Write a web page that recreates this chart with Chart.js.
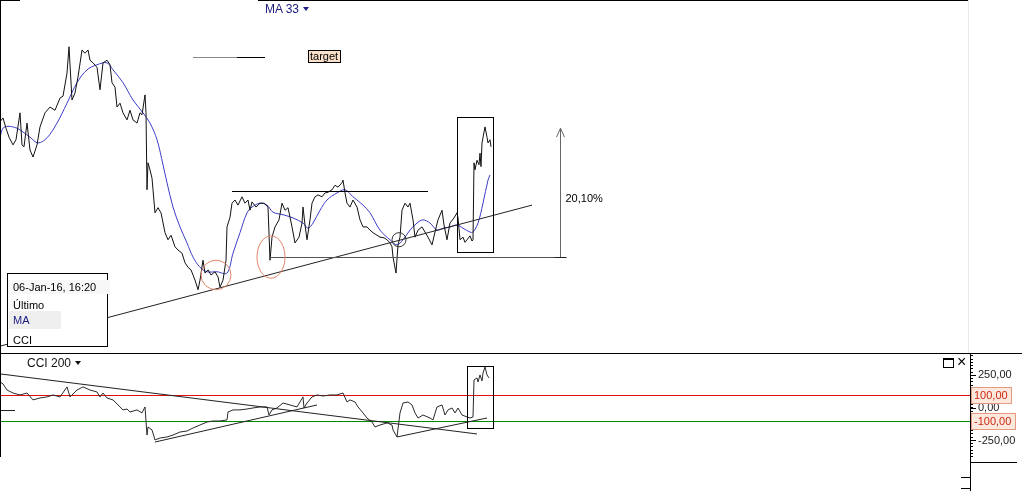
<!DOCTYPE html>
<html>
<head>
<meta charset="utf-8">
<script src="https://cdn.jsdelivr.net/npm/chart.js@4.4.1/dist/chart.umd.min.js"></script>
<style>
  body { margin: 0; background: #fff; font-family: "Liberation Sans", Arial, sans-serif; }
  #wrap { position: relative; width: 1022px; height: 491px; overflow: hidden; background: #fff; }
  #priceChart { position: absolute; left: 0; top: 0; }
  #cciChart { position: absolute; left: 0; top: 353px; }
  .lbl { position: absolute; font-size: 11px; white-space: nowrap; line-height: 13px; }
  .tri { display: inline-block; width: 0; height: 0; border-left: 3px solid transparent; border-right: 3px solid transparent; border-top: 4px solid currentColor; margin-left: 4px; vertical-align: 2px; }
  #info { position: absolute; left: 7px; top: 273px; width: 99px; height: 72px; border: 1px solid #000; background: #fff; font-size: 11px; }
  #info div { position: absolute; left: 5px; white-space: nowrap; line-height: 14px; }
</style>
</head>
<body>
<div id="wrap">
  <canvas id="priceChart" width="1022" height="353"></canvas>
  <canvas id="cciChart" width="1022" height="138"></canvas>

  <div class="lbl" style="left:265px; top:3px; color:#1a1a80; font-size:12px;">MA 33<span class="tri"></span></div>
  <div class="lbl" style="left:27px; top:357px; color:#111; font-size:12px;">CCI 200<span class="tri"></span></div>
  <div style="position:absolute; left:943px; top:358px; width:9px; height:7px; border:1px solid #000; border-top-width:2px;"></div>
  <div class="lbl" style="left:957px; top:354px; font-size:16px; line-height:16px; color:#000;">×</div>

  <div id="info">
    <div style="top:6px; left:0; width:97px; padding-left:5px; background:#f8f8f8;">06-Jan-16, 16:20</div>
    <div style="top:24px;">Último</div>
    <div style="top:37px; left:1px; width:48px; height:18px; line-height:18px; padding-left:4px; background:#efefef; color:#1a1a80;">MA</div>
    <div style="top:59px;">CCI</div>
  </div>
</div>

<script>
// --- DATA (bar number = time index) ---

// close price
const priceBars = [0,3,6,9,13,16,20,22,24,27,30,33,37,40,45,50,55,60,63,67,69,72,75,78,82,85,88,90,93,97,
  100,103,107,110,112,115,117,120,123,127,130,133,137,140,142,145,146,147,148,150,152,153,155,158,161,165,168,171,175,178,
  182,185,188,191,195,198,200,203,205,208,211,215,218,220,223,226,227,230,232,235,238,242,245,248,250,252,256,260,264,268,
  270,272,275,279,282,285,288,292,295,299,302,303,305,307,310,312,315,318,322,325,328,332,335,338,342,343,345,347,350,353,
  357,360,363,367,370,373,377,380,384,387,390,392,393,396,398,400,402,405,408,410,413,415,418,422,425,428,432,435,438,442,
  444,447,450,454,457,458,460,463,465,467,470,472,473,474,475,477,479,480,481,482,485,487,488,490,491];
const priceValues = [121.0,121.6,120.0,118.6,117.4,118.2,122.4,117.4,117.1,120.8,116.6,115.5,117.4,120.2,122.4,123.3,122.8,124.7,125.0,128.6,
  132.7,124.4,125.5,128.0,132.2,131.7,132.2,130.6,130.2,129.5,126.0,130.2,130.6,129.9,127.1,126.4,123.3,123.9,122.4,121.3,
  122.8,121.3,120.8,122.4,122.1,125.2,122.4,110.4,114.6,113.5,112.2,110.4,106.8,107.6,106.8,103.7,102.6,103.3,101.5,101.0,
  100.5,99.0,98.3,97.9,96.3,94.8,96.3,99.4,97.4,97.9,97.1,97.6,96.8,95.2,96.3,99.4,104.6,106.1,108.3,108.8,
  108.0,109.3,108.3,108.8,107.2,108.5,107.7,108.3,108.3,107.7,99.4,103.0,104.6,105.7,108.3,107.2,107.6,104.6,102.1,103.0,
  105.2,107.7,104.9,102.6,105.7,108.3,109.3,109.6,109.3,109.9,110.0,110.4,111.1,110.8,111.5,111.9,109.9,108.3,107.7,108.8,
  107.7,105.7,104.6,104.6,104.1,103.7,103.3,103.0,102.9,102.6,102.1,101.5,99.9,97.4,101.8,103.0,107.2,108.3,107.7,108.3,
  105.7,103.0,104.1,104.6,103.8,103.0,101.8,103.8,105.7,107.2,104.9,102.6,105.2,106.0,106.8,106.0,102.6,103.0,102.2,102.6,
  103.2,102.4,102.6,114.6,113.5,115.0,114.3,116.1,114.0,117.7,120.2,118.6,117.7,118.2,117.1];

// MA 33
const maBars = [0,3,8,17,23,30,38,47,57,67,77,87,97,107,113,123,133,143,150,157,163,167,173,180,187,193,200,207,217,227,
  233,240,247,252,260,267,273,283,293,303,308,313,320,327,337,345,353,363,370,380,390,397,403,410,417,423,430,437,443,450,
  457,463,470,473,478,483,488,490];
const maValues = [118.6,120.0,120.3,120.0,119.4,118.6,117.7,118.5,120.8,123.9,127.1,129.1,129.9,130.2,129.1,127.1,124.4,122.4,120.8,118.2,
  114.3,111.5,107.7,104.6,102.1,99.9,98.3,97.6,97.6,97.4,100.5,103.7,106.8,107.7,108.3,108.0,106.9,106.5,106.0,105.2,
  104.4,105.2,107.2,108.8,109.9,110.4,109.3,108.0,106.8,104.1,102.6,101.8,102.6,104.1,105.2,105.7,105.2,104.1,104.4,104.6,
  104.9,104.4,103.8,103.8,105.2,108.3,111.9,112.7];

// CCI 200
const cciBars = [0,3,7,13,20,27,33,40,47,53,60,67,70,77,83,90,97,100,103,107,113,118,123,127,130,137,142,145,147,148,
  152,155,160,167,173,180,187,193,200,207,213,220,227,228,233,240,247,253,260,267,269,272,277,283,290,297,303,304,307,312,
  317,323,330,337,343,347,350,355,358,363,367,372,375,380,387,392,393,397,400,403,408,412,415,418,423,430,433,437,442,445,
  448,452,455,458,462,467,470,473,474,477,478,480,482,483,485,487,489];
const cciValues = [200,185,138,115,100,115,62,77,85,100,85,162,85,138,162,138,123,85,115,77,62,23,-15,-8,-31,-15,-38,8,-208,-146,
  -169,-246,-231,-223,-208,-185,-177,-154,-131,-108,-100,-100,-92,-31,-15,-15,-8,0,8,8,-54,-15,0,38,23,8,85,0,38,85,
  100,92,100,100,115,46,62,46,8,-38,-77,-108,-146,-131,-115,-131,-169,-223,-38,38,46,23,-38,-77,-54,-77,-92,8,23,-54,
  -15,0,-38,0,-54,-69,-77,-69,215,231,200,254,208,269,315,254,231];
const cciLevels = [100, -100];
const cciTicks = [250, 0, -250];

// hand-drawn studies, in [bar, price] terms
const resistanceLine = [232, 110.2, 428, 110.2];
const supportLine = [270, 99.9, 565, 99.9];
const trendLine = [0, 86.0, 532, 108.0];
const targetLine = [193, 131.1, 265, 131.1];
const moveArrow = [560, 99.9, 120.0];
const moveLabel = "20,10%";
const moveLabelAt = 109.0;
const breakoutBox = [457, 121.7, 493, 100.7];
const markCircles = [[216, 97.1, 15, 2.3], [271, 99.9, 14, 3.3]];
const crossCircle = [399, 102.6, 7, 1.1];

// same idea on the CCI pane, in [bar, cci] terms
const cciDownLine = [0, 262, 477, -200];
const cciStub = [0, -15, 15, -15];
const cciUpLine1 = [155, -262, 317, 23];
const cciUpLine2 = [397, -223, 487, -77];
const cciBox = [467, 323, 493, -154];

Chart.defaults.font.family = '"Liberation Sans", Arial, sans-serif';
Chart.defaults.font.size = 11;

function toXY(bars, vals) {
  return bars.map((b, i) => ({ x: b, y: vals[i] }));
}

function crisp(v) {
  return Math.round(v) + 0.5;
}

function drawSeg(ctx, x, y, l, color) {
  let y1 = y.getPixelForValue(l[1]);
  let y2 = y.getPixelForValue(l[3]);
  if (l[1] === l[3]) { y1 = crisp(y1); y2 = y1; }
  ctx.strokeStyle = color;
  ctx.beginPath();
  ctx.moveTo(x.getPixelForValue(l[0]), y1);
  ctx.lineTo(x.getPixelForValue(l[2]), y2);
  ctx.stroke();
}

function drawBox(ctx, x, y, b) {
  const x1 = crisp(x.getPixelForValue(b[0]));
  const x2 = crisp(x.getPixelForValue(b[2]));
  const y1 = crisp(y.getPixelForValue(b[1]));
  const y2 = crisp(y.getPixelForValue(b[3]));
  ctx.strokeStyle = "#000";
  ctx.strokeRect(x1, y1, x2 - x1, y2 - y1);
}

function drawEllipse(ctx, x, y, c, color) {
  const cx = x.getPixelForValue(c[0]);
  const cy = y.getPixelForValue(c[1]);
  const rx = x.getPixelForValue(c[0] + c[2]) - cx;
  const ry = cy - y.getPixelForValue(c[1] + c[3]);
  ctx.strokeStyle = color;
  ctx.beginPath();
  ctx.ellipse(cx, cy, rx, ry, 0, 0, Math.PI * 2);
  ctx.stroke();
}

// --- price pane drawings ---
const priceOverlay = {
  id: "priceOverlay",
  afterDatasetsDraw(chart) {
    const { ctx, scales: { x, y } } = chart;
    ctx.save();
    ctx.lineWidth = 1;

    drawSeg(ctx, x, y, trendLine, "#222");
    drawSeg(ctx, x, y, resistanceLine, "#000");
    drawSeg(ctx, x, y, supportLine, "#555");

    // target dash: fades in from the left
    const midBar = (targetLine[0] + targetLine[2]) / 2 + 8;
    drawSeg(ctx, x, y, [targetLine[0], targetLine[1], midBar, targetLine[3]], "#888");
    drawSeg(ctx, x, y, [midBar, targetLine[1], targetLine[2], targetLine[3]], "#000");

    drawBox(ctx, x, y, breakoutBox);
    markCircles.forEach(c => drawEllipse(ctx, x, y, c, "#e0866a"));
    drawEllipse(ctx, x, y, crossCircle, "#333");

    // measured move arrow
    const ax = crisp(x.getPixelForValue(moveArrow[0]));
    const ay0 = crisp(y.getPixelForValue(moveArrow[1]));
    const ay1 = y.getPixelForValue(moveArrow[2]);
    ctx.strokeStyle = "#666";
    ctx.beginPath();
    ctx.moveTo(ax, ay0);
    ctx.lineTo(ax, ay1);
    ctx.moveTo(ax - 4, ay1 + 9);
    ctx.lineTo(ax, ay1);
    ctx.lineTo(ax + 4, ay1 + 9);
    ctx.stroke();
    ctx.strokeStyle = "#222";
    ctx.beginPath();
    ctx.moveTo(ax - 6, ay0);
    ctx.lineTo(ax + 6, ay0);
    ctx.stroke();

    ctx.fillStyle = "#000";
    ctx.font = '11px "Liberation Sans", Arial, sans-serif';
    ctx.textBaseline = "middle";
    ctx.fillText(moveLabel, ax + 5, y.getPixelForValue(moveLabelAt));

    // target label
    const tx = crisp(x.getPixelForValue(targetLine[2] + 43));
    const ty = Math.round(y.getPixelForValue(targetLine[1]));
    const tw = Math.ceil(ctx.measureText("target").width) + 3;
    ctx.fillStyle = "#fbe1cb";
    ctx.fillRect(tx, ty - 6.5, tw, 12);
    ctx.strokeStyle = "#000";
    ctx.strokeRect(tx, ty - 6.5, tw, 12);
    ctx.fillStyle = "#000";
    ctx.fillText("target", tx + 1.5, ty);
    ctx.restore();
  },
  afterDraw(chart) {
    const { ctx, chartArea: a } = chart;
    ctx.save();
    ctx.lineWidth = 1;
    ctx.strokeStyle = "#eaeaea";
    ctx.beginPath();
    ctx.moveTo(crisp(a.right), a.top);
    ctx.lineTo(crisp(a.right), a.bottom);
    ctx.stroke();
    ctx.strokeStyle = "#000";
    ctx.beginPath();
    ctx.moveTo(a.left, 0.5);
    ctx.lineTo(a.left + 20, 0.5);
    ctx.moveTo(a.left + 258, 0.5);
    ctx.lineTo(a.right, 0.5);
    ctx.moveTo(a.left + 0.5, a.top);
    ctx.lineTo(a.left + 0.5, a.bottom);
    ctx.stroke();
    ctx.restore();
  }
};

new Chart(document.getElementById("priceChart"), {
  type: "line",
  data: {
    datasets: [
      { label: "Último", data: toXY(priceBars, priceValues), borderColor: "#111", borderWidth: 1, pointRadius: 0, tension: 0 },
      { label: "MA", data: toXY(maBars, maValues), borderColor: "#3c3cc8", borderWidth: 1, pointRadius: 0, tension: 0.35 }
    ]
  },
  options: {
    responsive: false,
    animation: false,
    layout: { padding: { left: 0, right: 54, top: 0, bottom: 0 } },
    scales: {
      x: { type: "linear", min: 0, max: 968, display: false },
      y: { min: 84.93, max: 140, display: false }
    },
    plugins: { legend: { display: false }, tooltip: { enabled: false } }
  },
  plugins: [priceOverlay]
});

// --- CCI pane drawings ---
const cciOverlay = {
  id: "cciOverlay",
  beforeDatasetsDraw(chart) {
    const { ctx, chartArea: a, scales: { y } } = chart;
    ctx.save();
    // overbought / oversold levels
    const colors = ["#e01010", "#008a00"];
    cciLevels.forEach((v, i) => {
      const yy = Math.round(y.getPixelForValue(v));
      ctx.fillStyle = colors[i];
      ctx.fillRect(a.left, yy, a.right - a.left, 1);
    });
    ctx.restore();
  },
  afterDatasetsDraw(chart) {
    const { ctx, scales: { x, y } } = chart;
    ctx.save();
    ctx.lineWidth = 1;
    drawSeg(ctx, x, y, cciDownLine, "#222");
    drawSeg(ctx, x, y, cciStub, "#222");
    drawSeg(ctx, x, y, cciUpLine1, "#222");
    drawSeg(ctx, x, y, cciUpLine2, "#222");
    drawBox(ctx, x, y, cciBox);
    ctx.restore();
  },
  afterDraw(chart) {
    const { ctx, chartArea: a, scales: { y }, height, width } = chart;
    ctx.save();
    ctx.lineWidth = 1;
    ctx.strokeStyle = "#000";
    ctx.beginPath();
    // pane separator and left edge
    ctx.moveTo(0, 0.5);
    ctx.lineTo(width, 0.5);
    ctx.moveTo(0.5, 0);
    ctx.lineTo(0.5, a.bottom);
    // value axis runs on into the time strip
    ctx.moveTo(crisp(a.right), a.bottom);
    ctx.lineTo(crisp(a.right), height);
    ctx.moveTo(a.right, crisp(a.bottom + 5));
    ctx.lineTo(a.right + 47, crisp(a.bottom + 5));
    ctx.moveTo(a.right - 9, crisp(a.bottom + 20));
    ctx.lineTo(a.right, crisp(a.bottom + 20));
    ctx.moveTo(a.right - 9, crisp(a.bottom + 31));
    ctx.lineTo(a.right, crisp(a.bottom + 31));
    // longer marks on the labelled values
    cciTicks.forEach(v => {
      const yy = crisp(y.getPixelForValue(v));
      ctx.moveTo(a.right, yy);
      ctx.lineTo(a.right + 6, yy);
    });
    ctx.stroke();

    // level tags on the axis
    ctx.font = '11px "Liberation Sans", Arial, sans-serif';
    ctx.textBaseline = "middle";
    cciLevels.forEach(v => {
      const txt = v.toFixed(2).replace(".", ",");
      const yy = Math.round(y.getPixelForValue(v));
      const w = Math.ceil(ctx.measureText(txt).width) + 6;
      ctx.fillStyle = "#fde8de";
      ctx.fillRect(a.right + 1.5, yy - 7.5, w, 16);
      ctx.strokeStyle = "#e39a80";
      ctx.strokeRect(a.right + 1.5, yy - 7.5, w, 16);
      ctx.fillStyle = "#cc2a14";
      ctx.fillText(txt, a.right + 4, yy + 1);
    });
    ctx.restore();
  }
};

new Chart(document.getElementById("cciChart"), {
  type: "line",
  data: {
    datasets: [
      { label: "CCI", data: toXY(cciBars, cciValues), borderColor: "#2a2a2a", borderWidth: 1, pointRadius: 0, tension: 0 }
    ]
  },
  options: {
    responsive: false,
    animation: false,
    layout: { padding: { left: 0, right: 0, top: 1, bottom: 34 } },
    scales: {
      x: { type: "linear", min: 0, max: 970, display: false },
      y: {
        position: "right",
        min: -377,
        max: 415,
        afterFit(scale) {
          scale.width = 52;
          scale.paddingTop = 0;
          scale.paddingBottom = 0;
        },
        border: { display: true, color: "#000", width: 1 },
        grid: { drawOnChartArea: false, drawTicks: true, tickLength: 3, color: "#000" },
        ticks: {
          stepSize: 25,
          includeBounds: false,
          autoSkip: false,
          padding: 5,
          color: "#222",
          font: { size: 11 },
          callback: v => cciTicks.includes(v) ? v.toFixed(2).replace(".", ",") : ""
        }
      }
    },
    plugins: { legend: { display: false }, tooltip: { enabled: false } }
  },
  plugins: [cciOverlay]
});
</script>
</body>
</html>
